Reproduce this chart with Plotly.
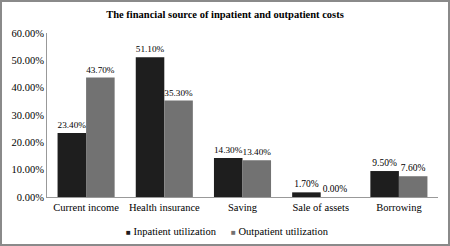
import plotly.graph_objects as go

categories = ["Current income", "Health insurance", "Saving", "Sale of assets", "Borrowing"]
inpatient = [23.4, 51.1, 14.3, 1.7, 9.5]
outpatient = [43.7, 35.3, 13.4, 0.0, 7.6]
y_ticks = [0, 10, 20, 30, 40, 50, 60]
y_tick_labels = ["0.00%", "10.00%", "20.00%", "30.00%", "40.00%", "50.00%", "60.00%"]
series_names = ["Inpatient utilization", "Outpatient utilization"]
series_colors = ["#1e1e1e", "#727272"]

FONT = "Liberation Serif, Times New Roman, serif"

fig = go.Figure()
for name, vals, col in zip(series_names, [inpatient, outpatient], series_colors):
    fig.add_trace(go.Bar(
        name=name, x=categories, y=vals, showlegend=False,
        marker=dict(color=col, line=dict(width=0)),
        text=[f"{v:.2f}%" for v in vals], textposition="outside",
        textfont=dict(family=FONT, size=9.5, color="#000"), cliponaxis=False,
    ))

L, R, T, B = 47, 12, 33, 49
W, H = 450, 246
pw, ph = W - L - R, H - T - B

def px_x(p):
    return (p - L) / pw

def px_y(p):
    return (H - B - p) / ph

legend_x = [124, 229]
annotations = []
for name, col, lx in zip(series_names, series_colors, legend_x):
    annotations.append(dict(
        xref="paper", yref="paper", x=px_x(lx), y=px_y(231),
        xanchor="left", yanchor="middle", showarrow=False,
        text=f"<span style='color:{col};font-size:8px'>■</span> {name}",
        font=dict(family=FONT, size=10.5, color="#000"),
    ))

fig.update_layout(
    width=W, height=H,
    margin=dict(l=L, r=R, t=T, b=B, autoexpand=False),
    paper_bgcolor="white", plot_bgcolor="white",
    font=dict(family=FONT, size=10.5, color="#000"),
    barmode="group", bargap=0.27, bargroupgap=0,
    title=dict(text="<b>The financial source of inpatient and outpatient costs</b>",
               x=0.5, xref="container", xanchor="center", y=1 - 14 / H, yanchor="middle",
               font=dict(family=FONT, size=10.5, color="#000")),
    showlegend=False,
    annotations=annotations,
    xaxis=dict(showline=True, linecolor="#999", linewidth=1, ticks="",
               tickangle=0, automargin=False,
               tickfont=dict(family=FONT, size=10.5, color="#000"), showgrid=False),
    yaxis=dict(range=[0, 60], tickvals=y_ticks, ticktext=y_tick_labels,
               showline=True, linecolor="#999", linewidth=1, ticks="",
               showgrid=False, zeroline=False, automargin=False,
               tickfont=dict(family=FONT, size=10.5, color="#000")),
    shapes=[dict(type="rect", xref="paper", yref="paper",
                 x0=px_x(1), x1=px_x(449),
                 y0=px_y(245), y1=px_y(1),
                 line=dict(color="#8a8a8a", width=2), fillcolor="rgba(0,0,0,0)")],
)

fig.write_html("out.html", config={"displayModeBar": False},
               post_script="document.body.style.margin='0';")
